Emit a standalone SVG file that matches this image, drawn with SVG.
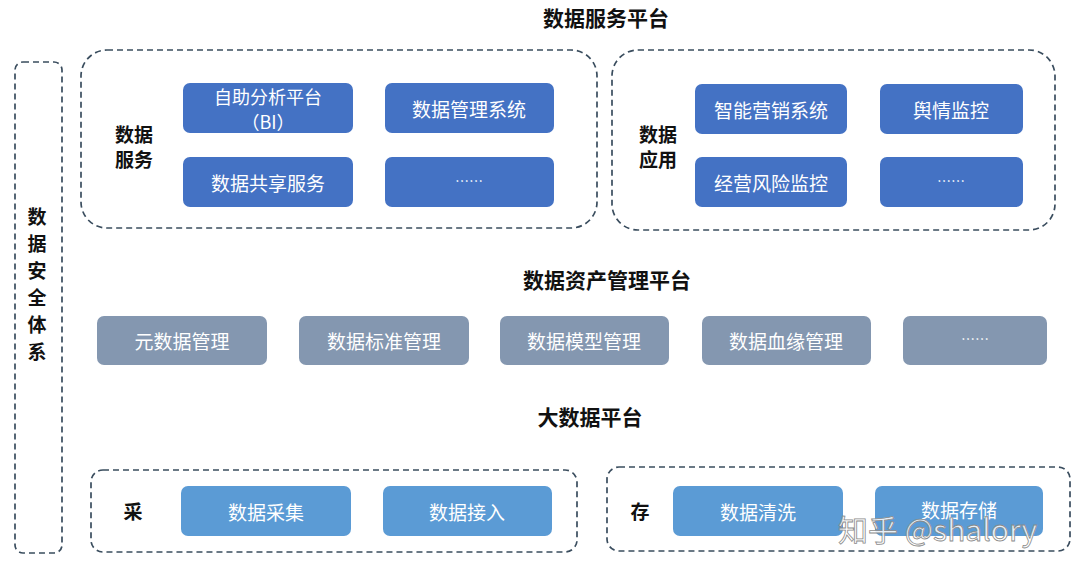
<svg xmlns="http://www.w3.org/2000/svg" width="1080" height="579" viewBox="0 0 1080 579">
<style>
text{font-family:"Noto Sans CJK SC","Noto Sans",sans-serif;}
.title{font-size:21px;font-weight:bold;fill:#111;text-anchor:middle;}
.lbl{font-size:19px;font-weight:bold;fill:#111;text-anchor:middle;}
.grp{fill:none;stroke:#3a4d5e;stroke-width:1.7;stroke-dasharray:6 4;}
.dk{fill:#4472C4;}
.gy{fill:#8497B0;}
.lt{fill:#5B9BD5;}
.nt{font-size:19px;fill:#fff;text-anchor:middle;dominant-baseline:central;}
.nt2{font-size:18px;fill:#fff;text-anchor:middle;dominant-baseline:central;}
.dots{font-size:14px;fill:#fff;text-anchor:middle;dominant-baseline:central;}
</style>
<rect width="1080" height="579" fill="#fff"/>

<g id="titles">
<text class="title" x="606" y="26">数据服务平台</text>
<text class="title" x="607" y="288">数据资产管理平台</text>
<text class="title" x="590" y="425">大数据平台</text>
</g>

<g id="security">
<rect class="grp" x="15" y="62" width="47" height="491" rx="8"/>
<text class="lbl" x="37" y="224">数</text>
<text class="lbl" x="37" y="251">据</text>
<text class="lbl" x="37" y="278">安</text>
<text class="lbl" x="37" y="305">全</text>
<text class="lbl" x="37" y="332">体</text>
<text class="lbl" x="37" y="359">系</text>
</g>

<g id="data-service">
<rect class="grp" x="81" y="50" width="516" height="178" rx="26"/>
<text class="lbl" x="134" y="142">数据</text>
<text class="lbl" x="134" y="167">服务</text>
</g>
<g id="bi"><rect class="dk" x="183" y="83" width="170" height="50" rx="7"/>
<text class="nt2" x="268" y="96">自助分析平台</text><text class="nt2" x="268" y="121">（BI）</text></g>
<g id="dms"><rect class="dk" x="385" y="83" width="169" height="50" rx="7"/><text class="nt" x="469" y="108">数据管理系统</text></g>
<g id="share"><rect class="dk" x="183" y="157" width="170" height="50" rx="7"/><text class="nt" x="268" y="182">数据共享服务</text></g>
<g id="svc-more"><rect class="dk" x="385" y="157" width="169" height="50" rx="7"/><text class="dots" x="469" y="180">……</text></g>

<g id="data-app">
<rect class="grp" x="612" y="50" width="443" height="180" rx="26"/>
<text class="lbl" x="658" y="142">数据</text>
<text class="lbl" x="658" y="167">应用</text>
</g>
<g id="mkt"><rect class="dk" x="695" y="84" width="152" height="50" rx="7"/><text class="nt" x="771" y="109">智能营销系统</text></g>
<g id="opinion"><rect class="dk" x="880" y="84" width="143" height="50" rx="7"/><text class="nt" x="951" y="109">舆情监控</text></g>
<g id="risk"><rect class="dk" x="695" y="157" width="152" height="50" rx="7"/><text class="nt" x="771" y="182">经营风险监控</text></g>
<g id="app-more"><rect class="dk" x="880" y="157" width="143" height="50" rx="7"/><text class="dots" x="951" y="180">……</text></g>

<g id="meta"><rect class="gy" x="97" y="316" width="170" height="49" rx="7"/><text class="nt" x="182" y="340">元数据管理</text></g>
<g id="std"><rect class="gy" x="299" y="316" width="170" height="49" rx="7"/><text class="nt" x="384" y="340">数据标准管理</text></g>
<g id="model"><rect class="gy" x="500" y="316" width="169" height="49" rx="7"/><text class="nt" x="584" y="340">数据模型管理</text></g>
<g id="lineage"><rect class="gy" x="702" y="316" width="169" height="49" rx="7"/><text class="nt" x="786" y="340">数据血缘管理</text></g>
<g id="asset-more"><rect class="gy" x="903" y="316" width="144" height="49" rx="7"/><text class="dots" x="975" y="338">……</text></g>

<g id="collect">
<rect class="grp" x="91" y="470" width="486" height="82" rx="12"/>
<text class="lbl" x="133" y="519">采</text>
</g>
<g id="gather"><rect class="lt" x="181" y="486" width="170" height="50" rx="7"/><text class="nt" x="266" y="511">数据采集</text></g>
<g id="ingest"><rect class="lt" x="383" y="486" width="169" height="50" rx="7"/><text class="nt" x="467" y="511">数据接入</text></g>

<g id="store">
<rect class="grp" x="607" y="467" width="463" height="84" rx="12"/>
<text class="lbl" x="640" y="519">存</text>
</g>
<g id="clean"><rect class="lt" x="673" y="486" width="170" height="50" rx="7"/><text class="nt" x="758" y="511">数据清洗</text></g>
<g id="storage"><rect class="lt" x="875" y="486" width="168" height="50" rx="7"/><text class="nt" x="959" y="509">数据存储</text></g>

<g id="connectors"></g>

<text x="838" y="541" font-size="30" fill="#fff" fill-opacity="0.85" stroke="#8a8a8a" stroke-width="0.8">知乎 @shalory</text>
</svg>
